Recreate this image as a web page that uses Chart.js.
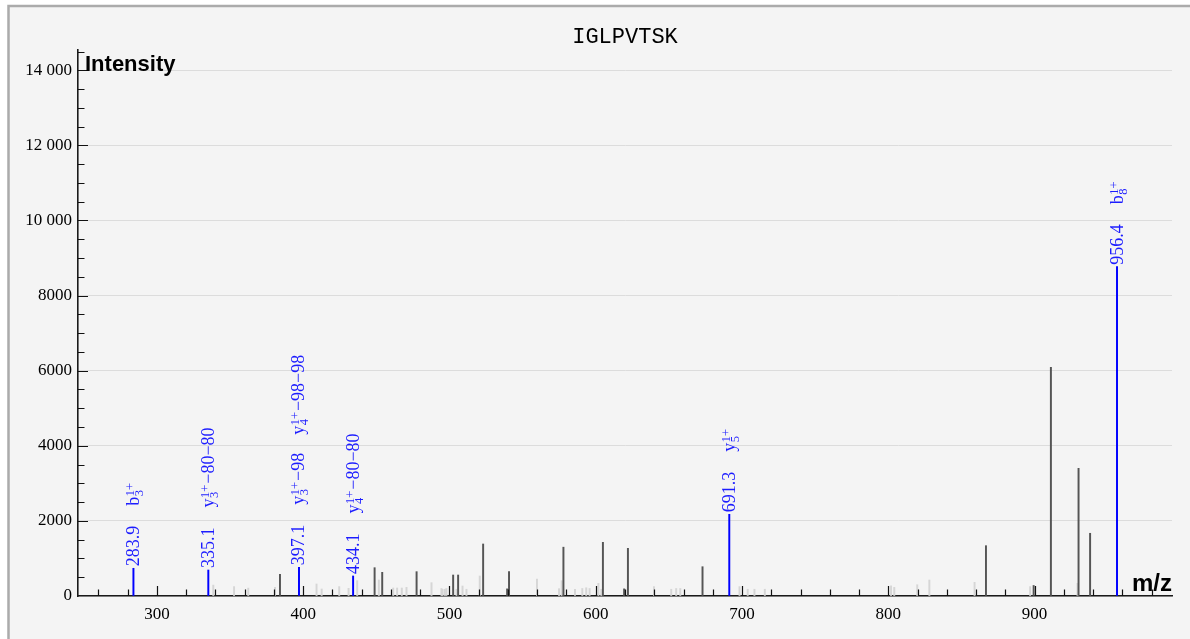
<!DOCTYPE html>
<html>
<head>
<meta charset="utf-8">
<script src="https://cdn.jsdelivr.net/npm/chart.js@4.4.1/dist/chart.umd.min.js"></script>
<style>
html,body{margin:0;padding:0;background:#ffffff;}
canvas{display:block;}
</style>
</head>
<body>
<canvas id="c" width="1190" height="639" style="width:1190px;height:639px"></canvas>
<script>
// ---- texts ----
const titleText = 'IGLPVTSK';
const yAxisTitle = 'Intensity';
const xAxisTitle = 'm/z';

// ---- axes ----
const xMin = 246, xMax = 994;
const yMin = 0, yMax = 14540;
const xTickValues = [300, 400, 500, 600, 700, 800, 900];
const xTickLabels = ['300', '400', '500', '600', '700', '800', '900'];
const yTickValues = [0, 2000, 4000, 6000, 8000, 10000, 12000, 14000];
const yTickLabels = ['0', '2000', '4000', '6000', '8000', '10 000', '12 000', '14 000'];
const xMinorStep = 20, yMinorStep = 500;

// ---- unmatched peaks (dark) ----
const darkMz =        [384.1, 448.8, 454.0, 477.5, 502.5, 505.9, 523.0, 539.4, 540.7, 577.9, 604.9, 619.4, 622.0, 673.0, 866.8, 899.4, 911.2, 930.1, 938.0];
const darkIntensity = [578,   754,   631,   648,   559,   559,   1385,  190,   648,   1300,  1430,  190,   1270,  780,   1340,  280,   6090,  3400,  1670];

// ---- unmatched peaks (faint) ----
const lightMz =        [338.5, 352.7, 362.4, 380.7, 409.1, 412.6, 424.6, 431.0, 436.9, 451.7, 461.5, 464.2, 467.4, 470.6, 487.7, 494.5, 495.2, 496.8, 497.9, 504.8, 508.9, 511.6, 520.7, 559.8, 574.9, 576.7, 585.8, 590.8, 593.5, 595.8, 601.8, 603.8, 639.8, 651.6, 655.0, 657.8, 698.3, 703.9, 708.5, 715.6, 801.9, 804.1, 819.8, 828.1, 859.0, 897.0, 929.4];
const lightIntensity = [290,   250,   210,   230,   320,   187,   250,   205,   408,   426,   213,   213,   213,   230,   355,   200,   178,   180,   200,   180,   266,   180,   533,   450,   195,   408,   180,   200,   220,   200,   338,   180,   250,   180,   200,   200,   250,   180,   180,   180,   270,   230,   300,   426,   364,   250,   338];

// ---- matched (annotated) peaks ----
const annotMz =        [283.9, 335.1, 397.1, 434.1, 691.3, 956.4];
const annotIntensity = [738,   692,   764,   533,   2176,  8770];
const annotText =      ['283.9', '335.1', '397.1', '434.1', '691.3', '956.4'];
// each ion: [base, subscript, superscript, suffix]
const annotIons = [
  [['b', '3', '1+', '']],
  [['y', '3', '1+', '\u221280\u221280']],
  [['y', '3', '1+', '\u221298'], ['y', '4', '1+', '\u221298\u221298']],
  [['y', '4', '1+', '\u221280\u221280']],
  [['y', '5', '1+', '']],
  [['b', '8', '1+', '']]
];

// ---- colors ----
const bgFrame = '#f4f4f4';
const frameLine = '#ababab';
const darkColor = '#555555';
const lightColor = '#d6d6d6';
const blueColor = '#0000ff';
const blueText = '#1c1cff';

const toXY = (xs, ys) => xs.map((x, i) => ({ x: x, y: ys[i] }));

const framePlugin = {
  id: 'frame',
  beforeDraw(chart) {
    const ctx = chart.ctx;
    ctx.save();
    ctx.fillStyle = '#ffffff';
    ctx.fillRect(0, 0, chart.width, chart.height);
    ctx.fillStyle = bgFrame;
    ctx.fillRect(8, 6, chart.width - 8, chart.height - 6);
    ctx.strokeStyle = frameLine;
    ctx.lineWidth = 2.5;
    ctx.beginPath();
    ctx.moveTo(8.5, chart.height);
    ctx.lineTo(8.5, 6);
    ctx.lineTo(chart.width, 6);
    ctx.stroke();
    ctx.restore();
  }
};

const innerTicksPlugin = {
  id: 'innerTicks',
  afterDatasetsDraw(chart) {
    const ctx = chart.ctx;
    const xs = chart.scales.x, ys = chart.scales.y;
    const a = chart.chartArea;
    ctx.save();
    ctx.strokeStyle = '#111111';
    ctx.lineWidth = 1.2;
    ctx.beginPath();
    for (let v = Math.ceil(xMin / xMinorStep) * xMinorStep; v <= xMax; v += xMinorStep) {
      const px = Math.round(xs.getPixelForValue(v)) + 0.5;
      const len = (v % 100 === 0) ? 10 : 6.5;
      ctx.moveTo(px, a.bottom);
      ctx.lineTo(px, a.bottom - len);
    }
    for (let v = yMinorStep; v <= yMax; v += yMinorStep) {
      const py = Math.round(ys.getPixelForValue(v)) + 0.5;
      const len = (v % 2000 === 0) ? 10 : 6.5;
      ctx.moveTo(a.left, py);
      ctx.lineTo(a.left + len, py);
    }
    ctx.stroke();
    ctx.restore();
  }
};

function drawIon(ctx, ion, bx, startY) {
  const [base, sub, sup, suffix] = ion;
  ctx.save();
  ctx.translate(bx, startY);
  ctx.rotate(-Math.PI / 2);
  ctx.textAlign = 'left';
  ctx.textBaseline = 'alphabetic';
  ctx.font = '18px "Liberation Serif"';
  ctx.fillText(base, 0, 0);
  let w = ctx.measureText(base).width;
  ctx.font = '12.5px "Liberation Serif"';
  ctx.fillText(sup, w + 0.5, -5);
  ctx.fillText(sub, w + 0.5, 4);
  const w2 = Math.max(ctx.measureText(sup).width, ctx.measureText(sub).width);
  w += w2 + 1.5;
  if (suffix) {
    ctx.font = '18px "Liberation Serif"';
    ctx.fillText(suffix, w, 0);
    w += ctx.measureText(suffix).width;
  }
  ctx.restore();
  return w;
}

const annotPlugin = {
  id: 'annot',
  afterDatasetsDraw(chart) {
    const ctx = chart.ctx;
    const xs = chart.scales.x, ys = chart.scales.y;
    ctx.save();
    ctx.fillStyle = blueText;
    annotMz.forEach((mz, i) => {
      const px = xs.getPixelForValue(mz);
      const py = ys.getPixelForValue(annotIntensity[i]);
      const bx = px + 5.5;
      let y = py - 2;
      ctx.save();
      ctx.translate(bx, y);
      ctx.rotate(-Math.PI / 2);
      ctx.textAlign = 'left';
      ctx.textBaseline = 'alphabetic';
      ctx.font = '18px "Liberation Serif"';
      ctx.fillText(annotText[i], 0, 0);
      const tw = ctx.measureText(annotText[i]).width;
      ctx.restore();
      y -= tw + 20;
      annotIons[i].forEach((ion) => {
        const w = drawIon(ctx, ion, bx, y);
        y -= w + 18;
      });
    });
    ctx.restore();
  }
};

const textPlugin = {
  id: 'texts',
  afterDraw(chart) {
    const ctx = chart.ctx;
    const a = chart.chartArea;
    ctx.save();
    ctx.fillStyle = '#000000';
    ctx.textBaseline = 'alphabetic';
    ctx.font = '22px "Liberation Mono"';
    ctx.textAlign = 'center';
    ctx.fillText(titleText, (a.left + a.right) / 2, 43);
    ctx.font = 'bold 22px "Liberation Sans"';
    ctx.textAlign = 'left';
    ctx.fillText(yAxisTitle, a.left + 7, 71);
    ctx.font = 'bold 24px "Liberation Sans"';
    ctx.textAlign = 'right';
    ctx.fillText(xAxisTitle, a.right, 591);
    ctx.restore();
  }
};

const barCommon = { barThickness: 1.3, grouped: false, borderWidth: 0 };

new Chart(document.getElementById('c').getContext('2d'), {
  type: 'bar',
  data: {
    datasets: [
      Object.assign({ label: 'minor', data: toXY(lightMz, lightIntensity), backgroundColor: lightColor, order: 3 }, barCommon),
      Object.assign({ label: 'unmatched', data: toXY(darkMz, darkIntensity), backgroundColor: darkColor, order: 2 }, barCommon),
      Object.assign({ label: 'matched', data: toXY(annotMz, annotIntensity), backgroundColor: blueColor, order: 1 }, barCommon)
    ]
  },
  options: {
    responsive: false,
    animation: false,
    devicePixelRatio: 1,
    layout: { padding: { top: 50, right: 18, bottom: 0, left: 0 } },
    plugins: { legend: { display: false }, tooltip: { enabled: false }, title: { display: false } },
    scales: {
      x: {
        type: 'linear', min: xMin, max: xMax, offset: false,
        grid: { display: false, drawTicks: false },
        border: { display: true, color: '#1a1a1a', width: 1.6 },
        afterBuildTicks: (s) => { s.ticks = xTickValues.map(v => ({ value: v })); },
        afterFit: (s) => { s.height = 43; },
        ticks: {
          autoSkip: false, maxRotation: 0, padding: 8, color: '#000000',
          font: { family: '"Liberation Serif"', size: 17 },
          callback: (v) => { const i = xTickValues.indexOf(v); return i >= 0 ? xTickLabels[i] : ''; }
        }
      },
      y: {
        type: 'linear', min: yMin, max: yMax,
        grid: { color: '#dcdcdc', lineWidth: 1, drawTicks: false },
        border: { display: true, color: '#1a1a1a', width: 1.6 },
        afterBuildTicks: (s) => { s.ticks = yTickValues.map(v => ({ value: v })); },
        afterFit: (s) => { s.width = 78; },
        ticks: {
          autoSkip: false, padding: 6, color: '#000000',
          font: { family: '"Liberation Serif"', size: 17 },
          callback: (v) => { const i = yTickValues.indexOf(v); return i >= 0 ? yTickLabels[i] : ''; }
        }
      }
    }
  },
  plugins: [framePlugin, innerTicksPlugin, annotPlugin, textPlugin]
});
</script>
</body>
</html>
